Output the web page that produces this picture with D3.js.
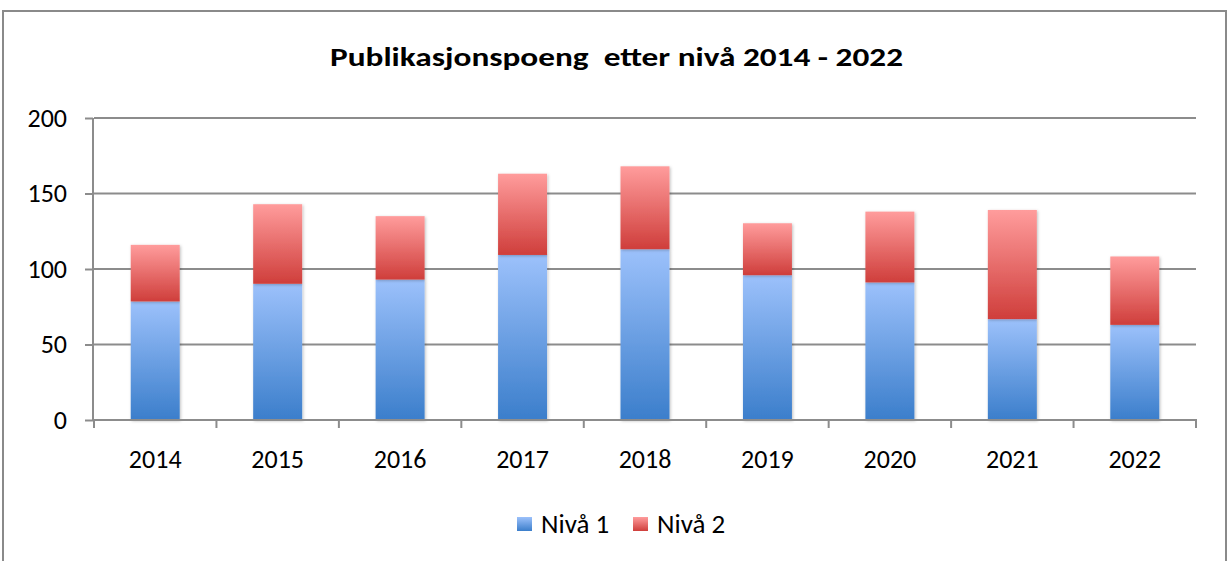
<!DOCTYPE html>
<html><head><meta charset="utf-8">
<script src="https://cdn.jsdelivr.net/npm/d3@7"></script>
<style>
body{margin:0;background:#fff;}
text{font-family:Carlito,Calibri,"DejaVu Sans Condensed","Liberation Sans",sans-serif;fill:#000;}
</style></head>
<body><svg id="c" width="1231" height="561"></svg>
<script>
const years = ["2014","2015","2016","2017","2018","2019","2020","2021","2022"];
const niva1 = [78.5, 90.2, 93, 109.3, 113.1, 95.9, 91.1, 66.8, 63];
const niva2 = [37.5, 52.7, 42, 53.8, 54.9, 34.4, 46.9, 72.3, 45.3];
const yTicks = [0, 50, 100, 150, 200];
const seriesNames = ["Nivå 1", "Nivå 2"];
const titleText = "Publikasjonspoeng  etter nivå 2014 - 2022";

const FONT = "Carlito,Calibri,'DejaVu Sans Condensed',sans-serif";
const svg = d3.select("#c");
const defs = svg.append("defs");
function grad(id, top, bottom){
  const g = defs.append("linearGradient").attr("id", id).attr("x1",0).attr("y1",0).attr("x2",0).attr("y2",1);
  g.append("stop").attr("offset","0%").attr("stop-color",top);
  g.append("stop").attr("offset","100%").attr("stop-color",bottom);
}
grad("gBlue", "#9cc1fb", "#3b7ecb");
grad("gRed", "#ff9c9c", "#cf3e3b");
const f = defs.append("filter").attr("id","sh").attr("x","-20%").attr("y","-20%").attr("width","140%").attr("height","140%");
f.append("feDropShadow").attr("dx",1).attr("dy",1).attr("stdDeviation",1.5).attr("flood-color","#000").attr("flood-opacity",0.25);

// outer frame
svg.append("path").attr("d","M3,561 V11 H1226 V561").attr("fill","none").attr("stroke","#8a8a8a").attr("stroke-width",2);

const x = d3.scaleBand().domain(years).range([94, 1196]).paddingInner(0.6).paddingOuter(0.3);
const xb = d3.scaleBand().domain(years).range([94, 1196]);
const y = d3.scaleLinear().domain([0, 200]).range([420, 118]);

// gridlines
svg.append("g").selectAll("line").data(yTicks.filter(d=>d>0)).join("line")
  .attr("x1",94).attr("x2",1196).attr("y1",d=>y(d)).attr("y2",d=>y(d))
  .attr("stroke","#8c8c8c").attr("stroke-width",2);

// bars
const stacked = years.map((yr,i)=>({yr, a:niva1[i], b:niva2[i]}));
const g = svg.append("g");
g.selectAll("rect.n1").data(stacked).join("rect").attr("class","n1")
  .attr("x",d=>x(d.yr)).attr("width",x.bandwidth())
  .attr("y",d=>y(d.a)).attr("height",d=>y(0)-y(d.a))
  .attr("fill","url(#gBlue)").attr("filter","url(#sh)");
g.selectAll("rect.n2").data(stacked).join("rect").attr("class","n2")
  .attr("x",d=>x(d.yr)).attr("width",x.bandwidth())
  .attr("y",d=>y(d.a+d.b)).attr("height",d=>y(d.a)-y(d.a+d.b))
  .attr("fill","url(#gRed)").attr("filter","url(#sh)");

// y axis
const ya = svg.append("g").attr("transform","translate(93,0)")
  .call(d3.axisLeft(y).tickValues(yTicks).tickSize(8).tickPadding(18));
ya.select(".domain").attr("stroke","#8c8c8c").attr("stroke-width",2).attr("d","M0,118V420");
ya.selectAll(".tick line").attr("stroke","#8c8c8c").attr("stroke-width",2);
ya.selectAll("text").attr("font-size",26).attr("fill","#000").style("font-family",FONT);

// x axis
const xa = svg.append("g").attr("transform","translate(0,420)")
  .call(d3.axisBottom(xb).tickSize(0).tickPadding(0));
xa.select(".domain").attr("stroke","#8c8c8c").attr("stroke-width",2).attr("d","M93,0H1197");
xa.selectAll(".tick text").attr("font-size",26).attr("fill","#000").attr("dy",null).attr("y",48).style("font-family",FONT);
const bounds = years.map(d=>xb(d)).concat([1196]);
xa.selectAll("line.sep").data(bounds).join("line").attr("class","sep")
  .attr("x1",d=>d).attr("x2",d=>d).attr("y1",0).attr("y2",8)
  .attr("stroke","#8c8c8c").attr("stroke-width",2);

// title
svg.append("text").attr("x",616.5).attr("y",66).attr("text-anchor","middle")
  .attr("font-size",27).attr("font-weight","bold").style("white-space","pre")
  .attr("textLength",573).attr("lengthAdjust","spacingAndGlyphs")
  .text(titleText);

// legend
const leg = svg.append("g");
const legX = [517, 633];
const legGrad = ["url(#gBlue)","url(#gRed)"];
seriesNames.forEach((n,i)=>{
  leg.append("rect").attr("x",legX[i]).attr("y",517).attr("width",15).attr("height",14).attr("fill",legGrad[i]);
  leg.append("text").attr("x",legX[i]+24).attr("y",533).attr("font-size",27).text(n);
});
</script></body></html>
